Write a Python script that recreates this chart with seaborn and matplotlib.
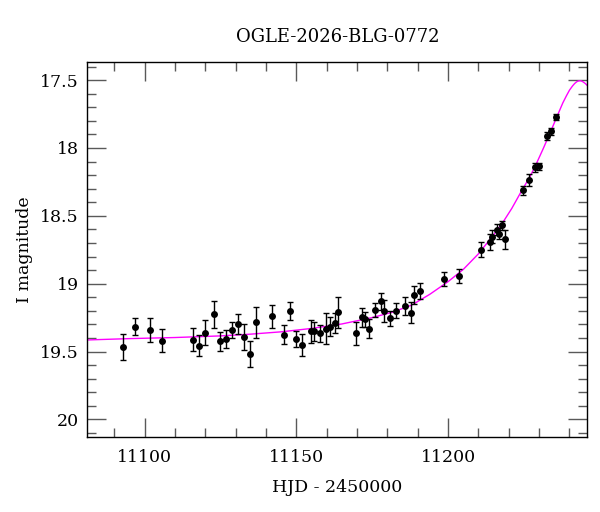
import numpy as np
import pandas as pd
import matplotlib
matplotlib.use("Agg")
import matplotlib.pyplot as plt
import seaborn as sns
from matplotlib.ticker import MultipleLocator, FixedLocator

# ---- data ----
hjd = [11092.9, 11096.8, 11101.8, 11105.7, 11115.8, 11117.8, 11119.8, 11122.8,
       11124.7, 11126.7, 11128.7, 11130.8, 11132.9, 11134.8, 11136.7, 11141.9,
       11145.9, 11147.9, 11149.8, 11151.7, 11154.7, 11155.8, 11157.8, 11159.7,
       11161.0, 11162.8, 11163.8, 11169.8, 11171.7, 11172.7, 11173.9, 11175.8,
       11177.9, 11179.0, 11180.8, 11182.8, 11185.8, 11187.7, 11188.9, 11190.8,
       11198.8, 11203.7, 11210.9, 11213.7, 11214.6, 11216.0, 11216.8, 11217.8,
       11218.7, 11224.8, 11226.8, 11228.7, 11229.8, 11232.7, 11233.8, 11235.6]
mag = [19.466, 19.316, 19.343, 19.420, 19.412, 19.456, 19.360, 19.227,
       19.424, 19.407, 19.343, 19.298, 19.395, 19.518, 19.284, 19.242,
       19.377, 19.202, 19.407, 19.451, 19.350, 19.350, 19.367, 19.333,
       19.318, 19.289, 19.212, 19.367, 19.249, 19.264, 19.333, 19.195,
       19.131, 19.200, 19.254, 19.200, 19.166, 19.215, 19.082, 19.052,
       18.963, 18.944, 18.749, 18.695, 18.653, 18.604, 18.633, 18.569,
       18.673, 18.313, 18.237, 18.143, 18.136, 17.909, 17.877, 17.773]
mag_err = [0.097, 0.060, 0.090, 0.084, 0.086, 0.076, 0.094, 0.097,
           0.069, 0.064, 0.060, 0.076, 0.096, 0.096, 0.113, 0.084,
           0.071, 0.068, 0.060, 0.081, 0.084, 0.070, 0.064, 0.115,
           0.070, 0.074, 0.116, 0.087, 0.068, 0.057, 0.069, 0.049,
           0.062, 0.080, 0.055, 0.054, 0.068, 0.078, 0.065, 0.060,
           0.052, 0.054, 0.055, 0.059, 0.047, 0.041, 0.040, 0.034,
           0.070, 0.032, 0.042, 0.032, 0.025, 0.030, 0.025, 0.022]

# model curve
model_hjd = [11081.0, 11095.0, 11110.0, 11125.0, 11135.0, 11145.0, 11155.0,
             11165.0, 11175.0, 11182.0, 11188.0, 11194.0, 11200.0, 11205.0,
             11210.0, 11215.0, 11218.0, 11221.0, 11224.0, 11227.0, 11229.0,
             11231.2, 11233.4, 11235.6, 11237.8, 11239.0, 11240.0, 11241.0,
             11241.7, 11242.4, 11243.1, 11243.8, 11244.4, 11245.2, 11246.1]
model_mag = [19.415, 19.405, 19.397, 19.385, 19.372, 19.355, 19.330,
             19.297, 19.250, 19.208, 19.158, 19.078, 18.985, 18.895,
             18.780, 18.640, 18.550, 18.445, 18.325, 18.210, 18.120,
             18.012, 17.900, 17.783, 17.668, 17.615, 17.574, 17.543,
             17.525, 17.512, 17.505, 17.505, 17.512, 17.525, 17.545]

title = "OGLE-2026-BLG-0772"
xlabel = "HJD - 2450000"
ylabel = "I magnitude"
yticks = [17.5, 18.0, 18.5, 19.0, 19.5, 20.0]
ytick_labels = ["17.5", "18", "18.5", "19", "19.5", "20"]
xticks = [11100, 11150, 11200]
xtick_labels = ["11100", "11150", "11200"]

df = pd.DataFrame({"hjd": hjd, "mag": mag, "err": mag_err})
mdf = pd.DataFrame({"hjd": model_hjd, "mag": model_mag})

sns.set_style("ticks")
plt.rcParams["font.family"] = ["DejaVu Serif"]
plt.rcParams["text.color"] = "black"
plt.rcParams["axes.labelcolor"] = "black"

fig, ax = plt.subplots(figsize=(6.0, 5.12), dpi=100)
fig.subplots_adjust(left=0.1455, right=0.979, top=0.878, bottom=0.1465)

sns.lineplot(data=mdf, x="hjd", y="mag", ax=ax, color="#ff00ff", lw=1.0,
             sort=False, zorder=2)
ax.errorbar(df["hjd"], df["mag"], yerr=df["err"], fmt="none", ecolor="black",
            elinewidth=1.0, capsize=2.4, capthick=1.0, zorder=3)
sns.scatterplot(data=df, x="hjd", y="mag", ax=ax, color="black", s=25,
                edgecolor="black", linewidth=0, zorder=4)

ax.set_xlim(11081.1, 11245.9)
ax.set_ylim(20.13, 17.37)

ax.xaxis.set_major_locator(FixedLocator(xticks))
ax.set_xticklabels(xtick_labels)
ax.xaxis.set_minor_locator(MultipleLocator(10))
ax.yaxis.set_major_locator(FixedLocator(yticks))
ax.set_yticklabels(ytick_labels)
ax.yaxis.set_minor_locator(MultipleLocator(0.1))

ax.tick_params(which="both", direction="in", top=True, right=True,
               color="0.35", width=1.0, labelsize=12.5, labelcolor="black")
ax.tick_params(which="major", length=13.5, pad=6)
ax.tick_params(axis="x", which="major", pad=9)
ax.tick_params(which="minor", length=6.7)
for s in ax.spines.values():
    s.set_color("black")
    s.set_linewidth(1.0)

ax.set_title(title, fontsize=13, pad=15, color="black")
ax.set_xlabel(xlabel, fontsize=12.5, labelpad=9)
ax.set_ylabel(ylabel, fontsize=12.5, labelpad=5)

fig.savefig("out.png", dpi=100)
